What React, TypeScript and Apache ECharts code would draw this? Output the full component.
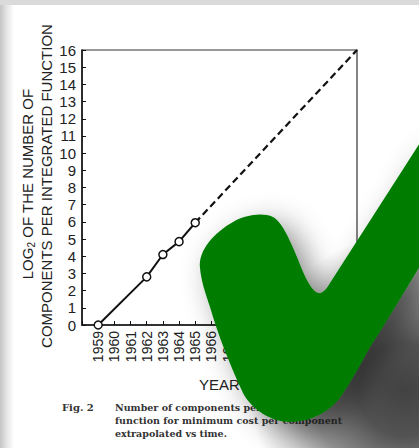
import React, { useEffect, useRef } from "react";
import * as echarts from "echarts";

const years = [1959, 1962, 1963, 1964, 1965];
const log2Components = [0, 2.8, 4.1, 4.85, 5.95];
const projectedYears = [1965, 1975];
const projectedValues = [5.95, 16];
const xTickYears = [1959, 1960, 1961, 1962, 1963, 1964, 1965, 1966, 1967, 1968, 1969, 1970, 1971, 1972, 1973, 1974, 1975];
const captionLines = [
  "Number of components per integrated",
  "function for minimum cost per component",
  "extrapolated vs time.",
];

const CHECK_PATH =
  "M200 268 C198 250 215 232 233 222 C245 215 262 212 273 217 C282 222 290 240 297 257 C303 272 310 290 318 293 C322 294 326 290 330 283 L425 135 L425 258 C405 290 385 325 370 347 C360 365 352 380 345 390 C335 408 315 422 290 422 C272 422 252 410 243 393 C230 365 218 335 210 307 C205 292 201 280 200 268 Z";

let registered = false;

export default function App() {
  const ref = useRef<HTMLDivElement>(null);
  useEffect(() => {
    document.body.style.margin = "0";
    if (!registered) {
      echarts.graphic.registerShape("check", echarts.graphic.extendPath(CHECK_PATH, {}) as any);
      registered = true;
    }
    const chart = echarts.init(ref.current!, null, { renderer: "svg" });
    const font = "Liberation Sans";
    chart.setOption({
      animation: false,
      backgroundColor: "#ffffff",
      grid: {
        left: 82,
        right: 62,
        top: 50,
        bottom: 123,
        show: true,
        borderColor: "#333",
        borderWidth: 1.2,
      },
      xAxis: {
        type: "value",
        min: 1958,
        max: 1975,
        interval: 1,
        name: "YEAR",
        nameLocation: "middle",
        nameGap: 52,
        nameTextStyle: { fontFamily: font, fontSize: 15, color: "#222" },
        axisLine: { lineStyle: { color: "#111", width: 1.5 } },
        axisTick: { inside: true, length: 4, lineStyle: { color: "#111" } },
        splitLine: { show: false },
        axisLabel: {
          rotate: 90,
          margin: 6,
          fontFamily: font,
          fontSize: 14,
          color: "#222",
          formatter: (v: number) => (xTickYears.includes(v) ? String(v) : ""),
        },
      },
      yAxis: {
        type: "value",
        min: 0,
        max: 16,
        interval: 1,
        axisLine: { show: true, lineStyle: { color: "#111", width: 1.5 } },
        axisTick: { show: true, inside: true, length: 4, lineStyle: { color: "#111" } },
        splitLine: { show: false },
        axisLabel: { fontFamily: font, fontSize: 15, color: "#222", margin: 6 },
      },
      series: [
        {
          type: "line",
          data: years.map((y, i) => [y, log2Components[i]]),
          symbol: "circle",
          symbolSize: 8,
          showSymbol: true,
          itemStyle: { color: "#fff", borderColor: "#111", borderWidth: 1.5 },
          lineStyle: { color: "#111", width: 2 },
          z: 3,
        },
        {
          type: "line",
          data: projectedYears.map((y, i) => [y, projectedValues[i]]),
          symbol: "none",
          lineStyle: { color: "#111", width: 2.2, type: [7, 4] },
          z: 2,
        },
      ],
      graphic: [
        {
          type: "rect",
          z: -100,
          silent: true,
          shape: { x: 0, y: 0, width: 14, height: 448 },
          style: {
            fill: new echarts.graphic.LinearGradient(0, 0, 1, 0, [
              { offset: 0, color: "#c4c4c4" },
              { offset: 0.5, color: "#e6e6e6" },
              { offset: 1, color: "#ffffff" },
            ]),
          },
        },
        {
          type: "rect",
          z: -99,
          silent: true,
          shape: { x: 0, y: 0, width: 419, height: 5 },
          style: { fill: "#dadada" },
        },
        {
          type: "text",
          x: 27,
          y: 184,
          rotation: Math.PI / 2,
          style: {
            text: "LOG{sub|2} OF THE NUMBER OF",
            fontFamily: font,
            fontSize: 15,
            fill: "#222",
            align: "center",
            verticalAlign: "middle",
            rich: {
              sub: { fontSize: 10, fontFamily: font, fill: "#222", verticalAlign: "bottom", padding: [8, 0, 0, 0] },
            },
          },
        },
        {
          type: "text",
          x: 46,
          y: 186,
          rotation: Math.PI / 2,
          style: {
            text: "COMPONENTS PER INTEGRATED FUNCTION",
            fontFamily: font,
            fontSize: 15,
            fill: "#222",
            align: "center",
            verticalAlign: "middle",
          },
        },
        {
          type: "text",
          x: 62,
          y: 407,
          style: {
            text: "Fig. 2",
            fontFamily: "DejaVu Serif",
            fontWeight: "bold",
            fontSize: 10,
            fill: "#333",
            verticalAlign: "middle",
          },
        },
        ...captionLines.map((t, i) => ({
          type: "text",
          x: 115,
          y: 407 + i * 13,
          style: {
            text: t,
            fontFamily: "DejaVu Serif",
            fontWeight: "bold",
            fontSize: 9.5,
            fill: "#333",
            verticalAlign: "middle",
          },
        })),
        {
          type: "circle",
          z: 98,
          silent: true,
          shape: { cx: 405, cy: 390, r: 155 },
          style: {
            fill: new echarts.graphic.RadialGradient(0.5, 0.5, 0.5, [
              { offset: 0, color: "rgba(40,40,40,0.88)" },
              { offset: 0.3, color: "rgba(40,40,40,0.8)" },
              { offset: 0.6, color: "rgba(40,40,40,0.5)" },
              { offset: 0.8, color: "rgba(40,40,40,0.2)" },
              { offset: 1, color: "rgba(40,40,40,0)" },
            ]),
          },
        },
        {
          type: "check",
          z: 100,
          silent: true,
          x: 0,
          y: 0,
          style: {
            fill: "#007d00",
            shadowColor: "rgba(0,0,0,0.45)",
            shadowBlur: 30,
            shadowOffsetX: 12,
            shadowOffsetY: 10,
          },
        },
      ],
    });
    return () => chart.dispose();
  }, []);
  return <div ref={ref} style={{ width: 419, height: 448 }} />;
}
